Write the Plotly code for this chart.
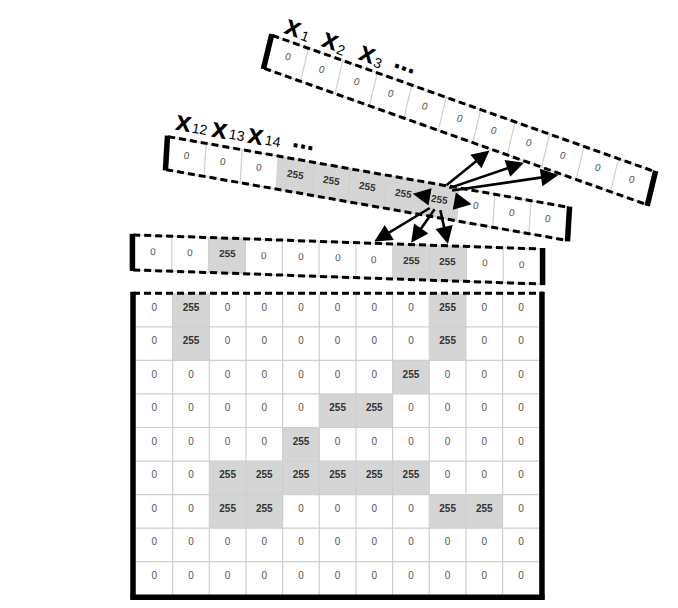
import math
import plotly.graph_objects as go

# ---------------- data ----------------
grid_values = [
    [0, 255, 0, 0, 0, 0, 0, 0, 255, 0, 0],
    [0, 255, 0, 0, 0, 0, 0, 0, 255, 0, 0],
    [0, 0, 0, 0, 0, 0, 0, 255, 0, 0, 0],
    [0, 0, 0, 0, 0, 255, 255, 0, 0, 0, 0],
    [0, 0, 0, 0, 255, 0, 0, 0, 0, 0, 0],
    [0, 0, 255, 255, 255, 255, 255, 255, 0, 0, 0],
    [0, 0, 255, 255, 0, 0, 0, 0, 255, 255, 0],
    [0, 0, 0, 0, 0, 0, 0, 0, 0, 0, 0],
    [0, 0, 0, 0, 0, 0, 0, 0, 0, 0, 0],
]
strip_top_values = [0, 0, 0, 0, 0, 0, 0, 0, 0, 0, 0]
strip_mid_values = [0, 0, 0, 255, 255, 255, 255, 255, 0, 0, 0]
strip_low_values = [0, 0, 255, 0, 0, 0, 0, 255, 255, 0, 0]
top_label_subs = ["1", "2", "3"]
mid_label_subs = ["12", "13", "14"]
focus_cell = 7                 # cell of the middle strip with arrows
up_targets = [6, 7, 8]         # cells of the top strip
down_targets = [6, 7, 8]       # cells of the lower strip
side_targets = [6, 8]          # neighbours in the middle strip

# ---------------- geometry (pixels) ----------------
W, H = 678, 608
PAGE_OFF = 8  # browser body margin
GX0, GY0, CW, CH = 136.0, 293.3, 36.66, 33.55
STRIPS = {
    "top": dict(origin=(274.0, 36.0), end=(653.0, 171.0), cross=(-8.0, 33.0), values=strip_top_values),
    "mid": dict(origin=(170.0, 137.0), end=(567.0, 207.0), cross=(-2.0, 33.0), values=strip_mid_values),
    "low": dict(origin=(135.0, 235.0), end=(540.0, 249.0), cross=(0.0, 35.0), values=strip_low_values),
}
GRAY = "#d5d5d5"
LINE_GRAY = "#cfcfcf"
FONT = "Liberation Sans, Arial, sans-serif"


def spt(name, s, t):
    st = STRIPS[name]
    n = len(st["values"])
    ox, oy = st["origin"]
    ux, uy = (st["end"][0] - ox) / n, (st["end"][1] - oy) / n
    vx, vy = st["cross"]
    return ox + s * ux + t * vx, oy + s * uy + t * vy


def sangle(name):
    st = STRIPS[name]
    return math.degrees(math.atan2(st["end"][1] - st["origin"][1], st["end"][0] - st["origin"][0]))


def sdirs(name):
    a = math.radians(sangle(name))
    return (math.cos(a), math.sin(a)), (math.sin(a), -math.cos(a))


fig = go.Figure()

# gray fills
fx, fy = [], []
for r, row in enumerate(grid_values):
    for c, v in enumerate(row):
        if v == 255:
            x0, y0 = GX0 + c * CW, GY0 + r * CH
            fx += [x0, x0 + CW, x0 + CW, x0, x0, None]
            fy += [y0, y0, y0 + CH, y0 + CH, y0, None]
for name, st in STRIPS.items():
    for i, v in enumerate(st["values"]):
        if v == 255:
            pts = [spt(name, i, 0), spt(name, i + 1, 0), spt(name, i + 1, 1), spt(name, i, 1), spt(name, i, 0)]
            fx += [p[0] for p in pts] + [None]
            fy += [p[1] for p in pts] + [None]
fig.add_trace(go.Scatter(x=fx, y=fy, mode="lines", fill="toself", fillcolor=GRAY,
                         line=dict(width=0, color=GRAY), hoverinfo="skip"))

# thin cell borders
lx, ly = [], []
nrows, ncols = len(grid_values), len(grid_values[0])
for c in range(1, ncols):
    lx += [GX0 + c * CW, GX0 + c * CW, None]
    ly += [GY0, GY0 + nrows * CH, None]
for r in range(1, nrows):
    lx += [GX0, GX0 + ncols * CW, None]
    ly += [GY0 + r * CH, GY0 + r * CH, None]
for name, st in STRIPS.items():
    n = len(st["values"])
    for i in range(1, n):
        a, b = spt(name, i, 0), spt(name, i, 1)
        lx += [a[0], b[0], None]
        ly += [a[1], b[1], None]
    for t in (0, 1):
        a, b = spt(name, 0, t), spt(name, n, t)
        lx += [a[0], b[0], None]
        ly += [a[1], b[1], None]
fig.add_trace(go.Scatter(x=lx, y=ly, mode="lines", line=dict(width=1.2, color=LINE_GRAY), hoverinfo="skip"))

# dashed edges
for name, st in STRIPS.items():
    n = len(st["values"])
    for t in (0, 1):
        a, b = spt(name, -0.05, t), spt(name, n, t)
        fig.add_trace(go.Scatter(x=[a[0], b[0]], y=[a[1], b[1]], mode="lines",
                                 line=dict(width=3, color="black", dash="7px,4px"), hoverinfo="skip"))
fig.add_trace(go.Scatter(x=[GX0 - 3, GX0 + ncols * CW + 4], y=[GY0, GY0], mode="lines",
                         line=dict(width=3, color="black", dash="7px,4px"), hoverinfo="skip"))

# thick bars
bx, by = [], []
for name, st in STRIPS.items():
    n = len(st["values"])
    for s in (-0.07, n + 0.07):
        a, b = spt(name, s, -0.03), spt(name, s, 1.03)
        bx += [a[0], b[0], None]
        by += [a[1], b[1], None]
gx1, gy1 = GX0 + ncols * CW, GY0 + nrows * CH
bx += [GX0 - 3, GX0 - 3, None, gx1 + 2.7, gx1 + 2.7, None, GX0 - 5.5, gx1 + 5.2, None]
by += [GY0 - 1.5, gy1 + 4.5, None, GY0 - 1.5, gy1 + 4.5, None, gy1 + 2, gy1 + 2, None]
fig.add_trace(go.Scatter(x=bx, y=by, mode="lines", line=dict(width=5.5, color="black"), hoverinfo="skip"))

# grid texts
tx, ty, tt, tc = [], [], [], []
for r, row in enumerate(grid_values):
    for c, v in enumerate(row):
        tx.append(GX0 + (c + 0.5) * CW)
        ty.append(GY0 + (r + 0.5) * CH - 2)
        tt.append("<b>255</b>" if v == 255 else str(v))
        tc.append("#333333" if v == 255 else "#555555")
fig.add_trace(go.Scatter(x=tx, y=ty, mode="text", text=tt,
                         textfont=dict(size=10, color=tc, family=FONT), hoverinfo="skip"))

annotations = []
# strip texts
for name, st in STRIPS.items():
    ang = sangle(name)
    for i, v in enumerate(st["values"]):
        x, y = spt(name, i + 0.5, 0.45)
        annotations.append(dict(
            x=x, y=y, xref="x", yref="y", showarrow=False, textangle=ang,
            text="<b>255</b>" if v == 255 else str(v),
            font=dict(size=10, color="#333333" if v == 255 else "#555555", family=FONT)))


# labels (x glyph + subscript + dots), placed in the strip's rotated frame
def rot_text(name, s, along, up, text, size, bold=False):
    (ux, uy), (nx, ny) = sdirs(name)
    x, y = spt(name, s, 0)
    annotations.append(dict(
        x=x + along * ux + up * nx, y=y + along * uy + up * ny, xref="x", yref="y",
        showarrow=False, textangle=sangle(name),
        text="<b>" + text + "</b>" if bold else text,
        font=dict(size=size, color="black", family=FONT)))


def add_labels(name, subs, pitch, along, up, sub_drop, dots_along, dots_up):
    for i, sub in enumerate(subs):
        s = 0.5 + i * pitch
        rot_text(name, s, along, up + 2.4, "x", 28, bold=True)
        rot_text(name, s, along + 9 + 4.3 * len(sub), up - sub_drop, sub, 14)
    rot_text(name, 0.5 + len(subs) * pitch, dots_along, dots_up, "...", 27, bold=True)


add_labels("top", top_label_subs, 1.065, -2.6, 13.8, 4.0, -2.0, 19.8)
add_labels("mid", mid_label_subs, 1.0, -7.4, 15.0, 1.5, 4.9, 20.9)


# arrows
def arrow(head, tail):
    annotations.append(dict(
        x=head[0], y=head[1], ax=tail[0], ay=tail[1], xref="x", yref="y", axref="x", ayref="y",
        text="", showarrow=True, arrowhead=2, arrowsize=1.35, arrowwidth=2.6, arrowcolor="black",
        standoff=0, startstandoff=0))


for j, tcell in enumerate(up_targets):
    tail = spt("mid", focus_cell + 0.62 + 0.08 * j, 0.03 + 0.05 * j)
    arrow(spt("top", tcell + 0.5, 1.05), tail)
for j, tcell in enumerate(down_targets):
    tail = spt("mid", focus_cell + 0.28 + 0.12 * j, 0.72)
    arrow(spt("low", tcell + 0.5, -0.05), tail)
arrow(spt("mid", side_targets[0] + 0.75, 0.42), spt("mid", focus_cell + 0.22, 0.42))
arrow(spt("mid", side_targets[1] + 0.38, 0.42), spt("mid", focus_cell + 0.9, 0.42))

fig.update_layout(
    width=W - PAGE_OFF, height=H - PAGE_OFF, margin=dict(l=0, r=0, t=0, b=0),
    paper_bgcolor="white", plot_bgcolor="white", showlegend=False,
    xaxis=dict(range=[PAGE_OFF, W], visible=False, fixedrange=True),
    yaxis=dict(range=[H, PAGE_OFF], visible=False, fixedrange=True),
    annotations=annotations,
)
fig.write_html("out.html")
